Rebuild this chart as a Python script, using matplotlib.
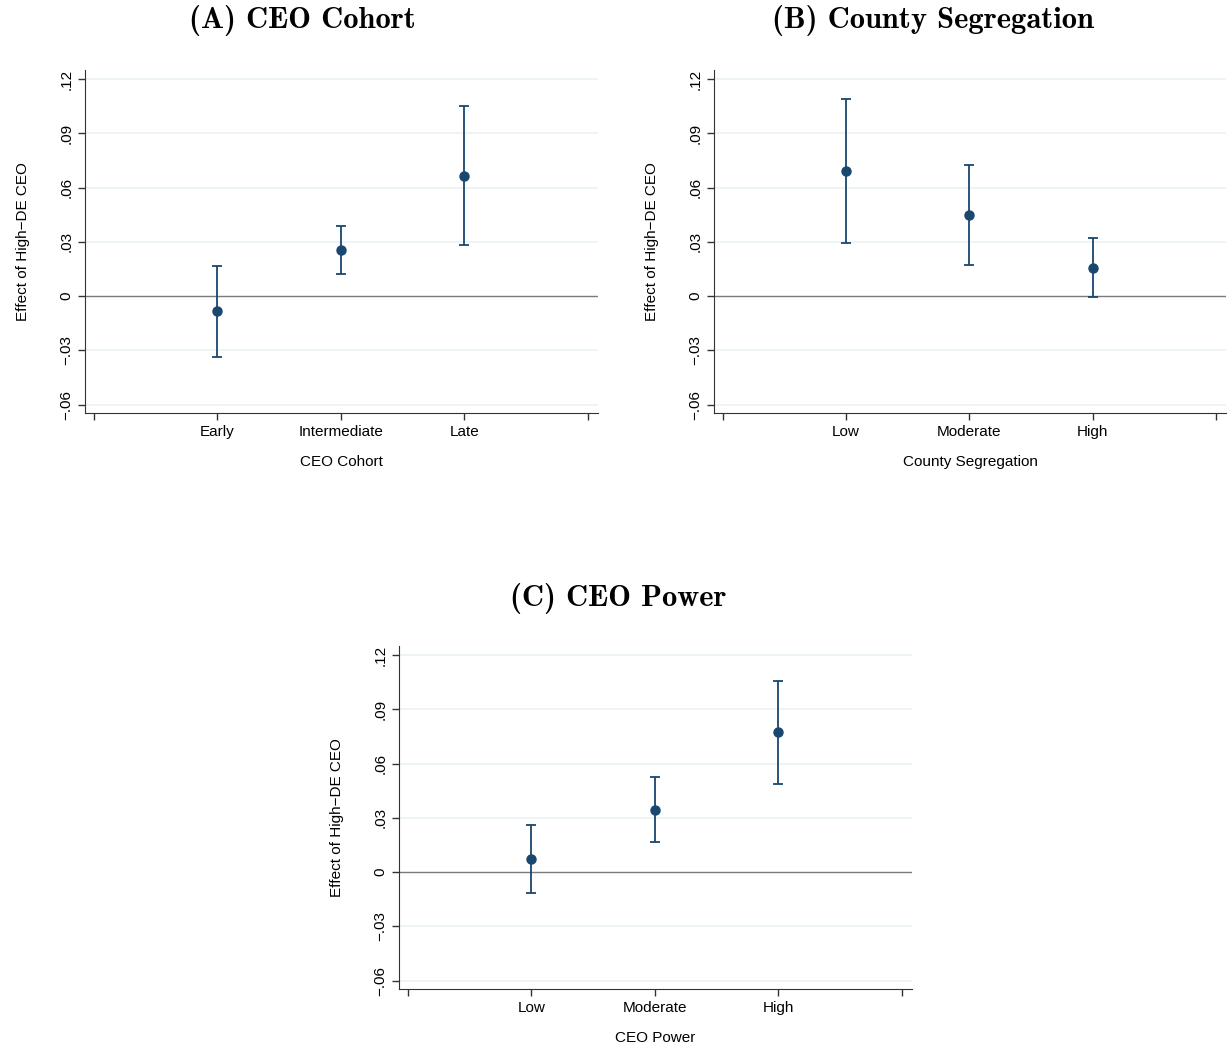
import matplotlib
matplotlib.use("Agg")
import matplotlib.pyplot as plt
import numpy as np

plt.rcParams['font.family'] = ['Liberation Sans', 'DejaVu Sans']

# panel A: CEO cohort
cohort_labels = ["Early", "Intermediate", "Late"]
cohort_est = [-0.0083, 0.0254, 0.0664]
cohort_lo = [-0.0337, 0.0122, 0.0282]
cohort_hi = [0.0166, 0.0387, 0.1050]

# panel B: county segregation
seg_labels = ["Low", "Moderate", "High"]
seg_est = [0.0691, 0.0448, 0.0155]
seg_lo = [0.0293, 0.0171, -0.0006]
seg_hi = [0.1090, 0.0724, 0.0321]

# panel C: CEO power
power_labels = ["Low", "Moderate", "High"]
power_est = [0.0072, 0.0344, 0.0772]
power_lo = [-0.0117, 0.0167, 0.0489]
power_hi = [0.0260, 0.0528, 0.1056]

yticks = [-0.06, -0.03, 0, 0.03, 0.06, 0.09, 0.12]
ytick_labels = ["\u2212.06", "\u2212.03", "0", ".03", ".06", ".09", ".12"]

navy = "#1a476f"
W, H = 1231, 1045

fig = plt.figure(figsize=(W / 100, H / 100), dpi=100)


def panel(rect, title, title_xy, labels, est, lo, hi, xlabel):
    l, t, r, b = rect
    ax = fig.add_axes([l / W, 1 - b / H, (r - l) / W, (b - t) / H])
    x = np.arange(1, len(labels) + 1)
    est = np.array(est)
    err = [est - np.array(lo), np.array(hi) - est]
    for yv in yticks:
        if yv != 0:
            ax.axhline(yv, color="#eaf2f3", lw=1.2, zorder=0)
    ax.axhline(0, color="#7a7a7a", lw=1.0, zorder=1)
    ax.errorbar(x, est, yerr=err, fmt="o", color=navy, ms=6.5,
                ecolor=navy, elinewidth=1.3, capsize=3.5, capthick=1.3, zorder=3)
    ax.set_xlim(-0.07, 4.08)
    ax.set_ylim(-0.0647, 0.125)
    ax.set_xticks([0, 1, 2, 3, 4])
    ax.set_xticklabels([""] + labels + [""], fontsize=11)
    ax.set_yticks(yticks)
    ax.set_yticklabels(ytick_labels, fontsize=11, rotation=90, va="center")
    ax.tick_params(direction="out", length=5, color="#333333", width=1)
    ax.spines["top"].set_visible(False)
    ax.spines["right"].set_visible(False)
    ax.spines["left"].set_color("#333333")
    ax.spines["bottom"].set_color("#333333")
    ax.set_xlabel(xlabel, fontsize=11, labelpad=12)
    ax.set_ylabel("Effect of High\u2212DE CEO", fontsize=11, labelpad=21)
    fig.text(title_xy[0] / W, 1 - title_xy[1] / H, title, fontsize=22,
             fontfamily="cmb10", ha="center", va="center")
    return ax


panel((85, 70, 598, 413), "(A) CEO Cohort", (302, 21), cohort_labels,
      cohort_est, cohort_lo, cohort_hi, "CEO Cohort")
panel((714, 70, 1226, 413), "(B) County Segregation", (933, 21), seg_labels,
      seg_est, seg_lo, seg_hi, "County Segregation")
panel((399, 646, 912, 989), "(C) CEO Power", (618, 598), power_labels,
      power_est, power_lo, power_hi, "CEO Power")

fig.savefig("out.png", dpi=100, facecolor="white")
